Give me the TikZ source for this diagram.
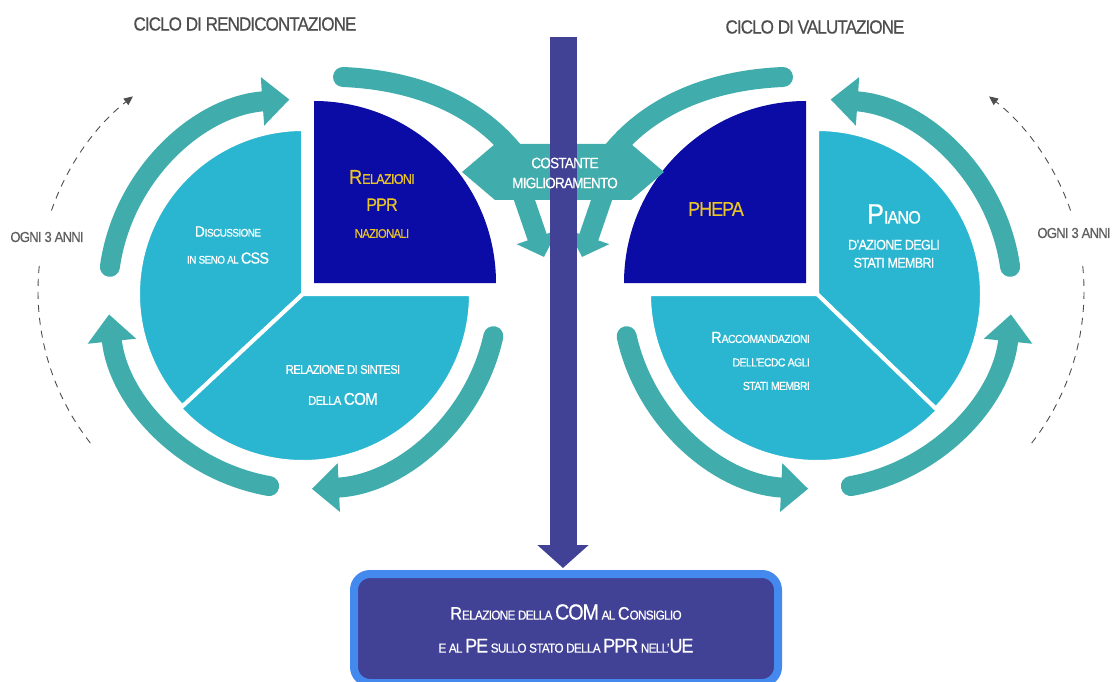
\documentclass[tikz,border=0pt]{standalone}
\usepackage{fontspec}
\setmainfont[FakeStretch=0.9, LetterSpace=-5, FakeBold=0.6]{Liberation Sans}
\usetikzlibrary{arrows.meta}

\definecolor{cycleteal}{RGB}{64,173,172}
\definecolor{segblue}{RGB}{42,182,208}
\definecolor{quartblue}{RGB}{11,11,165}
\definecolor{labelgold}{RGB}{232,196,40}
\definecolor{barblue}{RGB}{65,65,150}
\definecolor{rimblue}{RGB}{68,138,238}
\definecolor{titlegray}{RGB}{78,78,78}
\definecolor{spangray}{RGB}{95,95,95}

\newcommand{\txs}[2]{{\fontsize{#1}{#1}\selectfont #2}}

\begin{document}
\begin{tikzpicture}[x=1pt, y=-1pt,
  every node/.style={inner sep=0pt, align=center},
  segment/.style={fill=segblue, draw=white, line width=4pt},
  cyclearc/.style={draw=cycleteal, line width=20pt, line cap=round, -{Triangle[width=47pt,length=27pt]}},
  linkarc/.style={draw=cycleteal, line width=20pt, line cap=round},
  downarrow/.style={draw=cycleteal, line width=20pt, -{Triangle[width=42pt,length=21pt]}},
  cyclespan/.style={draw=titlegray, line width=0.9pt, dash pattern=on 7pt off 6pt},
  barstem/.style={draw=barblue, line width=27pt, shorten >=2pt, -{Triangle[width=50pt,length=23pt]}},
  reportbox/.style={draw=rimblue, line width=8pt, fill=barblue, rounded corners=16pt, minimum width=424pt, minimum height=109pt, text=white},
  titletext/.style={text=titlegray, font=\fontsize{19}{19}\selectfont},
  spantext/.style={text=spangray, font=\fontsize{14.5}{14.5}\selectfont},
  goldtext/.style={text=labelgold},
  whitetext/.style={text=white}]
\useasboundingbox (0,0) rectangle (1112,682);
\coordinate (lc) at (303,294);
\coordinate (rc) at (817,294);
\coordinate (lq) at (314,283);
\coordinate (rq) at (806,283);
\coordinate (ld) at (285,291);
\coordinate (rd) at (837,291);

\filldraw[segment] (lc) -- ++(270:165) arc[start angle=270, end angle=137, radius=165] -- cycle;
\filldraw[segment] (lc) -- ++(137:168) arc[start angle=137, end angle=0, radius=168] -- cycle;
\fill[quartblue] (lq) -- ++(0:182) arc[start angle=0, end angle=-90, radius=182] -- cycle;
\filldraw[segment] (rc) -- ++(-90:165) arc[start angle=-90, end angle=44, radius=165] -- cycle;
\filldraw[segment] (rc) -- ++(44:168) arc[start angle=44, end angle=180, radius=168] -- cycle;
\fill[quartblue] (rq) -- ++(-90:182) arc[start angle=-90, end angle=-180, radius=182] -- cycle;

\draw[cyclearc] ([shift={(-172:195)}]lc) arc[start angle=-172, end angle=-94, radius=195];
\draw[cyclearc] ([shift={(12.5:195)}]lc) arc[start angle=12.5, end angle=87.4, radius=195];
\draw[cyclearc] ([shift={(100:195)}]lc) arc[start angle=100, end angle=174, radius=195];
\draw[cyclearc] ([shift={(-8:195)}]rc) arc[start angle=-8, end angle=-86, radius=195];
\draw[cyclearc] ([shift={(167.5:195)}]rc) arc[start angle=167.5, end angle=92.6, radius=195];
\draw[cyclearc] ([shift={(80:195)}]rc) arc[start angle=80, end angle=6, radius=195];

\fill[cycleteal] (462,172) -- (495,144) -- (631,144) -- (664,172) -- (631,200) -- (495,200) -- cycle;
\draw[linkarc] (343,77) .. controls (415,80) and (480,105) .. (520,160);
\draw[linkarc] (783,77) .. controls (711,80) and (646,105) .. (606,160);
\draw[downarrow] (521,190) -- (544,257);
\draw[downarrow] (605,190) -- (582,257);

\draw[cyclespan] ([shift={(142:247)}]ld) arc[start angle=142, end angle=187, radius=247];
\draw[cyclespan, -{Triangle[length=9pt,width=8pt]}] ([shift={(199:247)}]ld) arc[start angle=199, end angle=232, radius=247];
\draw[cyclespan] ([shift={(38:247)}]rd) arc[start angle=38, end angle=-7, radius=247];
\draw[cyclespan, -{Triangle[length=9pt,width=8pt]}] ([shift={(-19:247)}]rd) arc[start angle=-19, end angle=-52, radius=247];

\node[reportbox, font=\fontsize{13}{33}\selectfont] (report) at (566,628.5)
  {\txs{18}{R}ELAZIONE DELLA \txs{22}{COM} AL \txs{18}{C}ONSIGLIO\\E AL \txs{20}{PE} SULLO STATO DELLA \txs{20}{PPR} NELL'\txs{20}{UE}};
\coordinate (bartop) at (563,37);
\draw[barstem] (bartop) -- (bartop |- report.north);

\node[whitetext, font=\fontsize{15}{20}\selectfont] (banner) at (565,173) {COSTANTE\\MIGLIORAMENTO};
\node[titletext] (lefttitle) at (245,24) {CICLO DI RENDICONTAZIONE};
\node[titletext] (righttitle) at (815,27) {CICLO DI VALUTAZIONE};
\node[spantext] (leftspan) at (47,237) {OGNI 3 ANNI};
\node[spantext] (rightspan) at (1074,233) {OGNI 3 ANNI};
\node[goldtext, font=\fontsize{14}{27}\selectfont] (relazioni) at (382,204)
  {\txs{20}{R}\txs{14}{ELAZIONI}\\\txs{18}{PPR}\\\txs{12.5}{NAZIONALI}};
\node[whitetext, font=\fontsize{11}{27}\selectfont] (discussione) at (228,245)
  {\txs{15}{D}ISCUSSIONE\\IN SENO AL \txs{16}{CSS}};
\node[whitetext, font=\fontsize{12.5}{31}\selectfont] (sintesi) at (343,385)
  {RELAZIONE DI SINTESI\\DELLA \txs{17}{COM}};
\node[goldtext, font=\fontsize{20}{20}\selectfont] (phepa) at (716,209) {PHEPA};
\node[whitetext, font=\fontsize{14}{18}\selectfont] (piano) at (894,236)
  {\txs{28}{P}\txs{18}{IANO}\\[8pt]D'AZIONE DEGLI\\STATI MEMBRI};
\node[whitetext, align=right, anchor=east, font=\fontsize{11.6}{23.5}\selectfont] (raccomandazioni) at (810,361)
  {\txs{16}{R}ACCOMANDAZIONI\\DELL'ECDC AGLI\\STATI MEMBRI};
\end{tikzpicture}
\end{document}
